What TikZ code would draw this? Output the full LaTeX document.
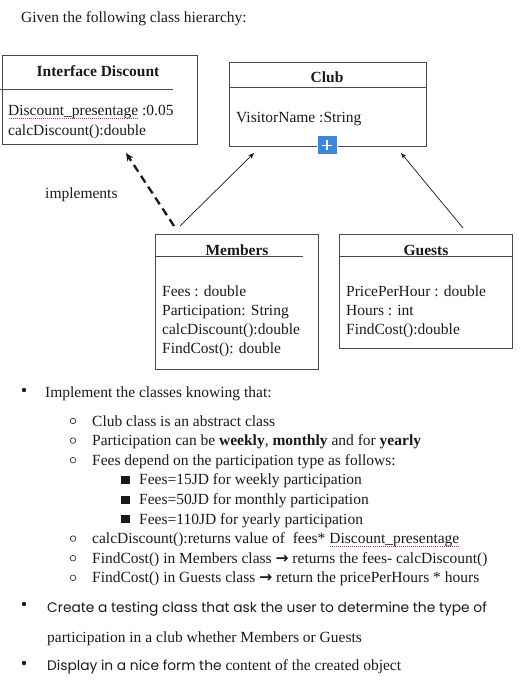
\documentclass[tikz,border=0pt]{standalone}
\usepackage{fontspec}
\setmainfont{Liberation Serif}
\newfontfamily\comicfont{Poppins}
\newfontfamily\arrowfont{DejaVu Sans}
\usetikzlibrary{arrows.meta}
\definecolor{HierInk}{HTML}{1A1A1A}
\definecolor{HierFrame}{HTML}{4A4A4A}
\definecolor{HierSpell}{HTML}{D23A3A}
\definecolor{HierPlus}{HTML}{3C87DC}
\newcommand{\spellmark}[1]{\setbox0\hbox{#1}\rlap{\color{HierSpell}\raisebox{-3pt}{\hbox to \wd0{\xleaders\hbox to 2pt{\hss\rule{1pt}{1pt}\hss}\hfill}}}\box0}
\newcommand{\thenarrow}{{\arrowfont\bfseries →}}

\begin{document}
\begin{tikzpicture}[x=1pt,y=-1pt,
    txt/.style={anchor=base west, inner sep=0pt, text=HierInk, font=\fontsize{15.5pt}{18pt}\selectfont},
    ttl/.style={anchor=base, inner sep=0pt, text=HierInk, font=\bfseries\fontsize{15.5pt}{18pt}\selectfont},
    comic/.style={font=\comicfont\fontsize{13.8pt}{17pt}\selectfont},
    classbox/.style={draw=HierFrame, line width=0.9pt, anchor=north west, inner sep=0pt},
    rule/.style={draw=HierFrame, line width=0.9pt},
    inherit/.style={draw=HierInk, line width=0.7pt, -{Stealth[length=6pt,width=4.5pt]}},
    realize/.style={draw=HierInk, line width=2.3pt, dash pattern=on 8pt off 5pt, -{Stealth[length=8pt,width=7pt]}}]
        \useasboundingbox (0,0) rectangle (519,700);
        \node[txt] (intro) at (21,23) {Given the following class hierarchy:};
        % interface
        \node[classbox, minimum width=195, minimum height=89] (discount) at (2,55) {};
        \draw[rule] (0,89) -- (173,89);
        \node[ttl] (discountTitle) at (98,77) {Interface Discount};
        \node[txt] (discountRate) at (8,116) {\spellmark{Discount\_presentage}\ :0.05};
        \node[txt] (discountCalc) at (8,136) {calcDiscount():double};
        % abstract class
        \node[classbox, minimum width=197, minimum height=84] (club) at (229,62) {};
        \draw[rule] (229,87) -- (426,87);
        \node[ttl] (clubTitle) at (327,83) {Club};
        \node[txt] (clubName) at (236,123) {VisitorName :String};
        \node[fill=HierPlus, draw=white, line width=1pt, minimum width=20, minimum height=19, inner sep=0pt] (clubAdd) at (327,145.5) {};
        \draw[white, line width=1.3pt] ([xshift=-5]clubAdd.center) -- ([xshift=5]clubAdd.center);
        \draw[white, line width=1.3pt] ([yshift=-5]clubAdd.center) -- ([yshift=5]clubAdd.center);
        % subclasses
        \node[classbox, minimum width=163, minimum height=135] (members) at (155,234) {};
        \draw[rule] (155,256.5) -- (303,256.5);
        \node[ttl] (membersTitle) at (237,255) {Members};
        \node[txt] (membersFees) at (162,296) {Fees : double};
        \node[txt] (membersPart) at (162,315) {Participation: String};
        \node[txt] (membersCalc) at (162,334) {calcDiscount():double};
        \node[txt] (membersCost) at (162,353) {FindCost(): double};
        \node[classbox, minimum width=173, minimum height=114] (guests) at (339,234) {};
        \draw[rule] (339,256.5) -- (512,256.5);
        \node[ttl] (guestsTitle) at (426,255) {Guests};
        \node[txt] (guestsPrice) at (346,296) {PricePerHour : double};
        \node[txt] (guestsHours) at (346,315) {Hours : int};
        \node[txt] (guestsCost) at (346,334) {FindCost():double};
        % connectors
        \coordinate (membersDash) at (174,226);
        \coordinate (discountTip) at (126,153);
        \coordinate (membersUp) at (180,226);
        \coordinate (clubTipL) at (254,153);
        \coordinate (guestsUp) at (463,228);
        \coordinate (clubTipR) at (401,153);
        \draw[realize] (membersDash) -- (discountTip);
        \draw[inherit] (membersUp) -- (clubTipL);
        \draw[inherit] (guestsUp) -- (clubTipR);
        \node[txt] (implLabel) at (45,199) {implements};
        % task list
        \foreach \y in {390,604,663} {
          \fill[HierInk] (24,\y) circle (2.2);
        }
        \foreach \y in {421,440.6,460.2,538.6,558.2,577.8} {
          \draw[HierInk, line width=0.6pt] (73,\y) circle (2.8);
        }
        \foreach \y in {480,499.6,519.2} {
          \fill[HierInk] (121,\y-4) rectangle (130,\y+4);
        }
        \node[txt] (taskImpl) at (45,397) {Implement the classes knowing that:};
        \node[txt] (ruleAbstract) at (92,426) {Club class is an abstract class};
        \node[txt] (rulePart) at (92,445.6) {Participation can be \textbf{weekly}, \textbf{monthly} and for \textbf{yearly}};
        \node[txt] (ruleFees) at (92,465.2) {Fees depend on the participation type as follows:};
        \node[txt] (feeWeek) at (139,484.8) {Fees=15JD for weekly participation};
        \node[txt] (feeMonth) at (139,504.4) {Fees=50JD for monthly participation};
        \node[txt] (feeYear) at (139,524) {Fees=110JD for yearly participation};
        \node[txt] (ruleCalc) at (92,543.6) {calcDiscount():returns value of\ \ fees* \spellmark{Discount\_presentage}};
        \node[txt] (ruleMemCost) at (92,563.2) {FindCost() in Members class \thenarrow{} returns the fees- calcDiscount()};
        \node[txt] (ruleGuestCost) at (92,582.8) {FindCost() in Guests class \thenarrow{} return the pricePerHours * hours};
        \node[txt, comic] (taskTest) at (47,612) {Create a testing class that ask the user to determine the type of};
        \node[txt] (taskTestMore) at (47,642) {participation in a club whether Members or Guests};
        \node[txt] (taskShow) at (47,670) {{\comicfont\fontsize{13.8pt}{17pt}\selectfont Display in a nice form the} content of the created object};
\end{tikzpicture}
\end{document}
